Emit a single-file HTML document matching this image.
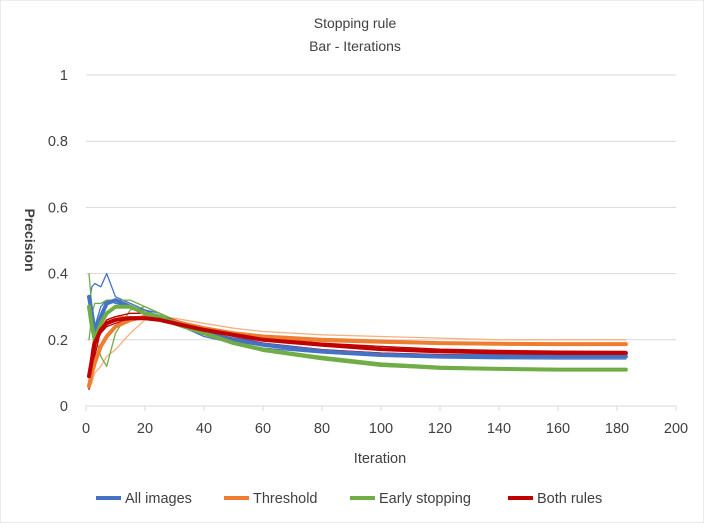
<!DOCTYPE html>
<html><head><meta charset="utf-8"><style>
body{margin:0;background:#fff;font-family:"Liberation Sans",sans-serif}
text{font-family:"Liberation Sans",sans-serif}
</style></head><body>
<svg id="c" width="704" height="523" xmlns="http://www.w3.org/2000/svg">
<rect width="704" height="523" fill="#fff" stroke="#d9d9d9"/>
<text x="355" y="28" text-anchor="middle" font-size="14" fill="#404040">Stopping rule</text>
<text x="355" y="51" text-anchor="middle" font-size="14" fill="#404040">Bar - Iterations</text>
<g id="grid"></g><g id="series"></g><g id="axes"></g>
<text x="380" y="463" text-anchor="middle" font-size="14.5" fill="#404040">Iteration</text>
<text transform="translate(25,240) rotate(90)" text-anchor="middle" font-size="14" font-weight="bold" fill="#404040">Precision</text>
<g id="legend"></g>
</svg>
<script>
const iters=[1,2,3,5,7,10,15,20,25,30,40,50,60,80,100,120,140,160,183];
const blueMean=[0.33,0.28,0.22,0.27,0.31,0.32,0.30,0.28,0.27,0.25,0.22,0.20,0.185,0.165,0.155,0.15,0.15,0.15,0.15];
const greenMean=[0.30,0.24,0.20,0.25,0.28,0.30,0.30,0.28,0.27,0.25,0.22,0.19,0.17,0.145,0.125,0.115,0.112,0.11,0.11];
const orangeMean=[0.06,0.10,0.13,0.18,0.21,0.24,0.26,0.27,0.265,0.255,0.235,0.22,0.21,0.20,0.195,0.19,0.188,0.187,0.187];
const redMean=[0.09,0.14,0.19,0.23,0.25,0.26,0.265,0.265,0.26,0.25,0.23,0.215,0.20,0.185,0.172,0.165,0.162,0.16,0.16];
const blueThin1=[0.31,0.36,0.37,0.36,0.40,0.33,0.31,0.29,0.27,0.25,0.21,0.19,0.175,0.16,0.15,0.145,0.143,0.142,0.142];
const blueThin2=[0.30,0.25,0.24,0.30,0.32,0.31,0.30,0.29,0.28,0.26,0.23,0.21,0.19,0.17,0.16,0.155,0.155,0.155,0.155];
const greenThin1=[0.40,0.30,0.22,0.15,0.12,0.22,0.29,0.30,0.28,0.26,0.22,0.19,0.165,0.14,0.12,0.112,0.11,0.108,0.108];
const greenThin2=[0.20,0.28,0.31,0.31,0.32,0.32,0.32,0.30,0.28,0.26,0.22,0.19,0.17,0.15,0.13,0.12,0.115,0.113,0.113];
const orangeThin1=[0.05,0.07,0.10,0.12,0.15,0.17,0.22,0.26,0.27,0.265,0.25,0.235,0.225,0.215,0.21,0.205,0.20,0.20,0.20];
const orangeThin2=[0.08,0.13,0.18,0.24,0.26,0.27,0.27,0.27,0.26,0.25,0.23,0.215,0.205,0.195,0.19,0.187,0.185,0.185,0.185];
const redThin1=[0.05,0.10,0.15,0.23,0.26,0.27,0.28,0.28,0.27,0.26,0.235,0.22,0.205,0.19,0.18,0.172,0.168,0.166,0.165];
const redThin2=[0.10,0.17,0.22,0.22,0.24,0.25,0.26,0.27,0.26,0.25,0.225,0.205,0.19,0.17,0.16,0.155,0.152,0.15,0.15];
const xTicks=[0,20,40,60,80,100,120,140,160,180,200];
const yTicks=[0,0.2,0.4,0.6,0.8,1];
const legendLabels=["All images","Threshold","Early stopping","Both rules"];
const NS="http://www.w3.org/2000/svg";
const X=v=>86+v*2.95, Y=v=>406-v*331;
function mk(t,a,p){const e=document.createElementNS(NS,t);for(const k in a)e.setAttribute(k,a[k]);p.appendChild(e);return e;}
const grid=document.getElementById('grid'),axes=document.getElementById('axes'),ser=document.getElementById('series'),leg=document.getElementById('legend');
yTicks.forEach(v=>{
 const l=mk('line',{x1:86,x2:676,y1:Y(v),y2:Y(v),stroke:'#d9d9d9'},grid);
 
 
 const t=mk('text',{x:68,y:Y(v)+5,'text-anchor':'end','font-size':14.5,fill:'#404040'},axes);t.textContent=String(v);
 
 
});
xTicks.forEach(v=>{
 const l=mk('line',{x1:X(v),x2:X(v),y1:406,y2:411,stroke:'#d9d9d9'},axes);
 
 
 const t=mk('text',{x:X(v),y:433,'text-anchor':'middle','font-size':14.5,fill:'#404040'},axes);t.textContent=String(v);
 
 
});
function line(vals,color,w,name){
 const d=vals.map((v,i)=>(i?'L':'M')+X(iters[i]).toFixed(1)+','+Y(v).toFixed(1)).join(' ');
 const p=mk('path',{d:d,fill:'none',stroke:color,'stroke-width':w,'stroke-linejoin':'round','stroke-linecap':'round'},ser);
 
 
}
const C={b:'#4472c4',o:'#ed7d31',g:'#70ad47',r:'#c00000'};
line(orangeThin1,'#f4b183',1.3,'threshold-run');line(orangeThin2,C.o,1.3,'threshold-run');
line(blueThin1,C.b,1.3,'all-images-run');line(blueThin2,C.b,1.3,'all-images-run');
line(greenThin1,C.g,1.3,'early-stopping-run');line(greenThin2,C.g,1.3,'early-stopping-run');
line(redThin1,C.r,1.3,'both-rules-run');line(redThin2,C.r,1.3,'both-rules-run');
line(orangeMean,C.o,4,'threshold-mean');line(blueMean,C.b,4,'all-images-mean');
line(greenMean,C.g,4,'early-stopping-mean');line(redMean,C.r,4,'both-rules-mean');
const lx=[96,224,350,508],lc=[C.b,C.o,C.g,C.r];
legendLabels.forEach((s,i)=>{
 const g=mk('g',{},leg);
 
 
 mk('line',{x1:lx[i],x2:lx[i]+25,y1:498,y2:498,stroke:lc[i],'stroke-width':4},g);
 const t=mk('text',{x:lx[i]+29,y:503,'font-size':14.5,fill:'#404040'},g);t.textContent=s;
});
</script>
</body></html>
